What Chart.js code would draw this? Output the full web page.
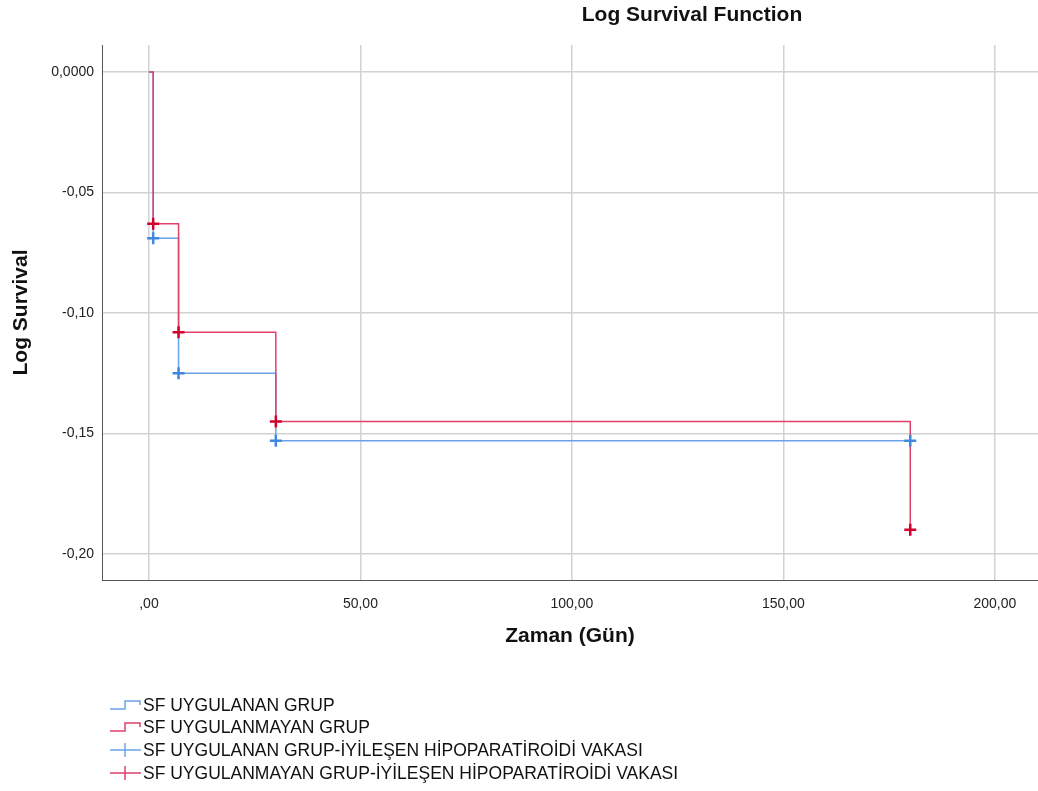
<!DOCTYPE html>
<html>
<head>
<meta charset="utf-8">
<script src="https://cdn.jsdelivr.net/npm/chart.js@4.4.1/dist/chart.umd.min.js"></script>
<style>
  html, body { margin: 0; padding: 0; background: #fff; }
  #wrap { width: 1038px; height: 791px; }
</style>
</head>
<body>
<div id="wrap"><canvas id="survChart"></canvas></div>
<script>
// Data
const daysUyg = [0, 1, 7, 30, 180];
const logSurvUyg = [0, -0.069, -0.125, -0.153, -0.153];
const daysUygMayan = [0, 1, 7, 30, 180];
const logSurvUygMayan = [0, -0.063, -0.108, -0.145, -0.190];

const censDaysUyg = [1, 7, 30, 180];
const censSurvUyg = [-0.069, -0.125, -0.153, -0.153];
const censDaysUygMayan = [1, 7, 30, 180];
const censSurvUygMayan = [-0.063, -0.108, -0.145, -0.190];

const xTicks = [0, 50, 100, 150, 200];
const yTicks = [0, -0.05, -0.10, -0.15, -0.20];
const legendLabels = [
    'SF UYGULANAN GRUP',
    'SF UYGULANMAYAN GRUP',
    'SF UYGULANAN GRUP-\u0130Y\u0130LE\u015eEN H\u0130POPARAT\u0130RO\u0130D\u0130 VAKASI',
    'SF UYGULANMAYAN GRUP-\u0130Y\u0130LE\u015eEN H\u0130POPARAT\u0130RO\u0130D\u0130 VAKASI'
];

const blueLine = '#6aa4e8';
const redLine = '#e0406a';
const blueMark = '#3f87e0';
const redMark = '#d3002e';
const FONT = '"Liberation Sans", Arial, sans-serif';

const toPts = (xs, ys) => xs.map((x, i) => ({ x: x, y: ys[i] }));

// title + legend drawn on top of the chart
const extras = {
    id: 'extras',
    afterDraw(chart) {
        const ctx = chart.ctx;
        ctx.save();
        ctx.fillStyle = '#111';
        ctx.font = 'bold 21px ' + FONT;
        ctx.textAlign = 'center';
        ctx.textBaseline = 'middle';
        ctx.fillText('Log Survival Function', 692, 15);

        const rows = [705, 727, 750, 773];
        ctx.font = '17.5px ' + FONT;
        ctx.textAlign = 'left';
        rows.forEach((y, i) => {
            const col = i % 2 === 0 ? blueLine : redLine;
            ctx.strokeStyle = col;
            ctx.lineWidth = 1.5;
            ctx.beginPath();
            if (i < 2) {
                ctx.moveTo(110, y + 4);
                ctx.lineTo(125, y + 4);
                ctx.lineTo(125, y - 4);
                ctx.lineTo(140, y - 4);
                ctx.lineTo(140, y);
            } else {
                ctx.moveTo(110, y);
                ctx.lineTo(141, y);
                ctx.moveTo(125, y - 7);
                ctx.lineTo(125, y + 7);
            }
            ctx.stroke();
            ctx.fillStyle = '#111';
            ctx.fillText(legendLabels[i], 143, y + 1);
        });
        ctx.restore();
    }
};

const ctx = document.getElementById('survChart').getContext('2d');
const survChart = new Chart(ctx, {
    type: 'line',
    data: {
        datasets: [
            {
                label: legendLabels[0],
                data: toPts(daysUyg, logSurvUyg),
                borderColor: blueLine,
                borderWidth: 1.5,
                stepped: 'before',
                pointRadius: 0,
                fill: false,
                order: 4
            },
            {
                label: legendLabels[1],
                data: toPts(daysUygMayan, logSurvUygMayan),
                borderColor: redLine,
                borderWidth: 1.5,
                stepped: 'before',
                pointRadius: 0,
                fill: false,
                order: 3
            },
            {
                label: legendLabels[2],
                data: toPts(censDaysUyg, censSurvUyg),
                showLine: false,
                pointStyle: 'cross',
                pointRadius: 6,
                pointBorderWidth: 2.5,
                pointBorderColor: blueMark,
                borderColor: blueMark,
                order: 2
            },
            {
                label: legendLabels[3],
                data: toPts(censDaysUygMayan, censSurvUygMayan),
                showLine: false,
                pointStyle: 'cross',
                pointRadius: 6,
                pointBorderWidth: 2.5,
                pointBorderColor: redMark,
                borderColor: redMark,
                order: 1
            }
        ]
    },
    options: {
        responsive: true,
        maintainAspectRatio: false,
        animation: false,
        layout: { autoPadding: false, padding: { top: 45, right: 0, bottom: 0, left: 0 } },
        plugins: {
            legend: { display: false },
            tooltip: { enabled: false },
            title: { display: false }
        },
        scales: {
            x: {
                type: 'linear',
                min: -11.1,
                max: 210.2,
                afterFit: (scale) => { scale.height = 211; },
                afterBuildTicks: (scale) => { scale.ticks = xTicks.map(v => ({ value: v })); },
                grid: { color: '#d2d2d2', lineWidth: 1.5, drawTicks: false },
                border: { display: true, color: '#555', width: 1 },
                ticks: {
                    padding: 16,
                    color: '#222',
                    font: { family: FONT, size: 14 },
                    maxRotation: 0,
                    callback: (v) => (v === 0 ? ',00' : v.toFixed(2).replace('.', ','))
                },
                title: {
                    display: true,
                    text: 'Zaman (G\u00fcn)',
                    color: '#111',
                    font: { family: FONT, size: 21, weight: 'bold' },
                    padding: { top: 0, bottom: 142 }
                }
            },
            y: {
                type: 'linear',
                min: -0.2108,
                max: 0.0112,
                afterFit: (scale) => { scale.width = 102; },
                afterBuildTicks: (scale) => { scale.ticks = yTicks.map(v => ({ value: v })); },
                grid: { color: '#d2d2d2', lineWidth: 1.5, drawTicks: false },
                border: { display: true, color: '#555', width: 1 },
                ticks: {
                    padding: 8,
                    color: '#222',
                    font: { family: FONT, size: 14 },
                    callback: (v) => (v === 0 ? '0,0000' : v.toFixed(2).replace('.', ','))
                },
                title: {
                    display: true,
                    text: 'Log Survival',
                    color: '#111',
                    font: { family: FONT, size: 21, weight: 'bold' },
                    padding: { top: 9, bottom: 0 }
                }
            }
        }
    },
    plugins: [extras]
});
</script>
</body>
</html>
